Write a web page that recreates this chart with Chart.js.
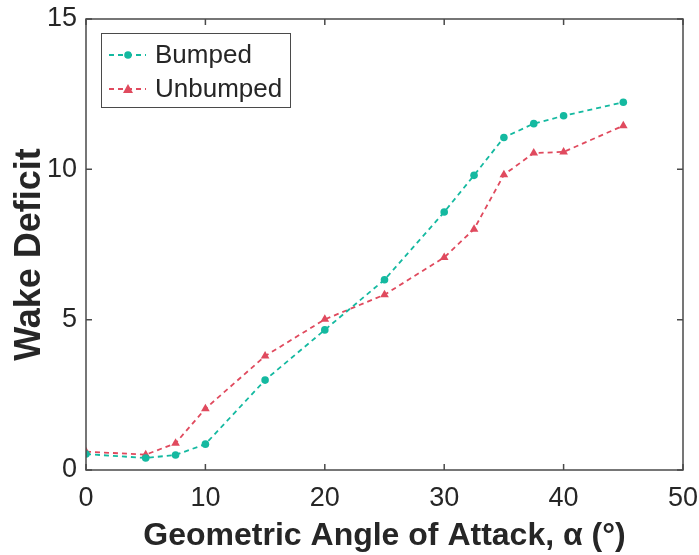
<!DOCTYPE html>
<html>
<head>
<meta charset="utf-8">
<script src="https://cdn.jsdelivr.net/npm/chart.js@4"></script>
<style>
  html, body { margin: 0; padding: 0; background: #fff; }
  #wrap { width: 699px; height: 555px; }
</style>
</head>
<body>
<div id="wrap"><canvas id="mycanvas" width="699" height="555"></canvas></div>
<script>
let angles = [0, 5, 7.5, 10, 15, 20, 25, 30, 32.5, 35, 37.5, 40, 45];
let bumped = [0.53, 0.40, 0.50, 0.86, 2.99, 4.66, 6.33, 8.58, 9.80, 11.06, 11.52, 11.78, 12.23];
let unbumped = [0.61, 0.51, 0.89, 2.04, 3.79, 5.01, 5.83, 7.07, 8.01, 9.82, 10.54, 10.58, 11.45];
let xTicks = [0, 10, 20, 30, 40, 50];
let yTicks = [0, 5, 10, 15];
let seriesNames = ["Bumped", "Unbumped"];

let teal = "#14b9a0";
let red = "#e04a5e";
let axisColor = "#4a4a4a";
let textColor = "#262626";
let fontFam = "'Liberation Sans', Arial, sans-serif";

function pts(ys) {
  return angles.map((a, i) => ({ x: a, y: ys[i] }));
}

// box, inward ticks and legend drawn by hand (MATLAB look)
const frame = {
  id: "frame",
  afterDraw(chart) {
    let { ctx, chartArea: a, scales: { x, y } } = chart;
    ctx.save();
    ctx.strokeStyle = axisColor;
    ctx.lineWidth = 1.5;
    ctx.strokeRect(a.left, a.top, a.right - a.left, a.bottom - a.top);
    ctx.beginPath();
    xTicks.forEach(v => {
      let px = x.getPixelForValue(v);
      ctx.moveTo(px, a.bottom); ctx.lineTo(px, a.bottom - 6);
      ctx.moveTo(px, a.top); ctx.lineTo(px, a.top + 6);
    });
    yTicks.forEach(v => {
      let py = y.getPixelForValue(v);
      ctx.moveTo(a.left, py); ctx.lineTo(a.left + 6, py);
      ctx.moveTo(a.right, py); ctx.lineTo(a.right - 6, py);
    });
    ctx.stroke();

    // legend
    let lx = 101, ly = 33, lw = 189, lh = 74;
    ctx.fillStyle = "#fff";
    ctx.fillRect(lx, ly, lw, lh);
    ctx.lineWidth = 1;
    ctx.strokeStyle = axisColor;
    ctx.strokeRect(lx + 0.5, ly + 0.5, lw, lh);
    let rows = [
      { name: seriesNames[0], color: teal, style: "circle", yy: 55 },
      { name: seriesNames[1], color: red, style: "triangle", yy: 89 },
    ];
    rows.forEach(r => {
      ctx.strokeStyle = r.color;
      ctx.lineWidth = 1.8;
      ctx.setLineDash([5, 4]);
      ctx.beginPath();
      ctx.moveTo(109, r.yy); ctx.lineTo(146, r.yy);
      ctx.stroke();
      ctx.setLineDash([]);
      ctx.fillStyle = r.color;
      ctx.beginPath();
      if (r.style === "circle") {
        ctx.arc(128, r.yy, 3.8, 0, Math.PI * 2);
      } else {
        ctx.moveTo(128, r.yy - 5); ctx.lineTo(133, r.yy + 4); ctx.lineTo(123, r.yy + 4);
        ctx.closePath();
      }
      ctx.fill();
      ctx.fillStyle = textColor;
      ctx.font = "26px " + fontFam;
      ctx.textBaseline = "middle";
      ctx.textAlign = "left";
      ctx.fillText(r.name, 155, r.yy + 1);
    });
    ctx.restore();
  }
};

let canvas = document.getElementById("mycanvas");

let chartData = {
  datasets: [
    {
      label: seriesNames[0],
      data: pts(bumped),
      borderColor: teal,
      backgroundColor: teal,
      borderWidth: 1.8,
      borderDash: [5, 4],
      pointStyle: "circle",
      pointRadius: 3.8,
      pointBorderWidth: 0,
      tension: 0,
    },
    {
      label: seriesNames[1],
      data: pts(unbumped),
      borderColor: red,
      backgroundColor: red,
      borderWidth: 1.8,
      borderDash: [5, 4],
      pointStyle: "triangle",
      pointRadius: 5,
      pointBorderWidth: 0,
      tension: 0,
    },
  ],
};

let chartOptions = {
  responsive: false,
  animation: false,
  layout: { padding: { left: 0, right: 16, top: 19, bottom: 0 } },
  plugins: {
    legend: { display: false },
    tooltip: { enabled: false },
  },
  scales: {
    x: {
      type: "linear",
      min: 0,
      max: 50,
      afterBuildTicks: s => { s.ticks = xTicks.map(v => ({ value: v })); },
      afterFit: s => { s.height = 85; s.paddingLeft = 0; s.paddingRight = 0; },
      grid: { display: false, drawTicks: false },
      border: { display: false },
      ticks: { color: textColor, padding: 12, maxRotation: 0, font: { size: 27, family: fontFam } },
      title: {
        display: true,
        text: "Geometric Angle of Attack, α (°)",
        color: textColor,
        padding: { top: 0, bottom: 0 },
        font: { size: 32, weight: "bold", family: fontFam },
      },
    },
    y: {
      min: 0,
      max: 15,
      afterBuildTicks: s => { s.ticks = yTicks.map(v => ({ value: v })); },
      afterFit: s => { s.width = 86; s.paddingTop = 0; s.paddingBottom = 0; },
      grid: { display: false, drawTicks: false },
      border: { display: false },
      ticks: { color: textColor, padding: 9, font: { size: 27, family: fontFam } },
      title: {
        display: true,
        // trailing spaces nudge the rotated title down a bit, like the original
        text: "Wake Deficit  ",
        color: textColor,
        padding: { top: 8, bottom: 8 },
        font: { size: 36, weight: "bold", family: fontFam },
      },
    },
  },
};

new Chart(canvas, {
  type: "line",
  data: chartData,
  options: chartOptions,
  plugins: [frame],
});
</script>
</body>
</html>
